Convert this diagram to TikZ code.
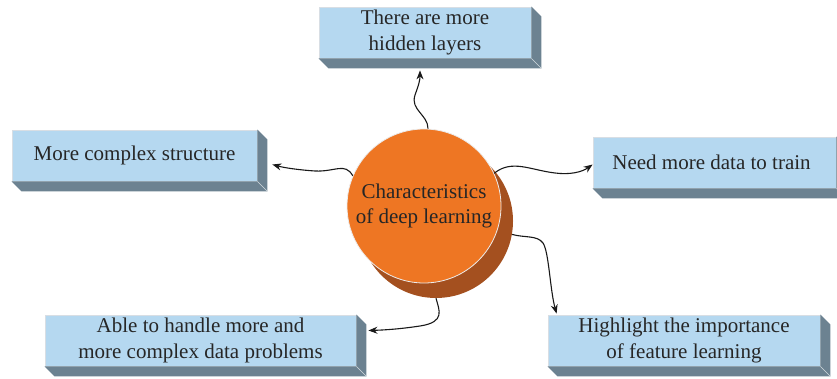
\documentclass[tikz,border=0pt]{standalone}
\usepackage{fontspec}
\setmainfont{Liberation Serif}
\usetikzlibrary{arrows.meta}
\definecolor{boxfront}{HTML}{B5D8F0}
\definecolor{boxside}{HTML}{6C8291}
\definecolor{boxedge}{HTML}{D8DEE4}
\definecolor{circfront}{HTML}{EE7623}
\definecolor{circback}{HTML}{A4501F}
\tikzset{
  feat/.style={rectangle, fill=boxfront, draw=boxedge, line width=0.8pt,
    inner sep=0pt, minimum height=51pt, align=center,
    font=\fontsize{21}{25.5}\selectfont, text=black!85},
  bigcirc/.style={circle, fill=circfront, draw=white!85!gray, line width=0.8pt,
    minimum size=154pt, inner sep=0pt, align=center,
    font=\fontsize{21}{25.5}\selectfont, text=black!85},
  conn/.style={-{Stealth[length=9pt,width=7pt]}, line width=1.1pt, black!90},
}
\newcommand{\extrude}[1]{%
  \fill[boxside] (#1.north east) -- ++(10pt,-10pt) -- ([xshift=10pt,yshift=-10pt]#1.south east)
    -- ([xshift=10pt,yshift=-10pt]#1.south west) -- (#1.south west) -- (#1.south east) -- cycle;
  \draw[white!70!boxside, line width=0.5pt] (#1.south east) -- ++(10pt,-10pt);
}
\begin{document}
\begin{tikzpicture}[x=1pt,y=-1pt]
\useasboundingbox (0,0) rectangle (837,379);
% circle
\node[circle, fill=circback, minimum size=154pt, inner sep=0pt] (cshadow) at (436,221) {};
\node[bigcirc] (c) at (424,206) {Characteristics\\of deep learning};
% boxes
\node[feat, minimum width=212pt] (top) at (425,32.5) {There are more\\hidden layers};
\extrude{top}
\node[feat, minimum width=245pt] (left) at (134.5,155.5) {More complex structure};
\extrude{left}
\node[feat, minimum width=243pt] (right) at (714.5,162.5) {\hspace*{-6pt}Need more data to train};
\extrude{right}
\node[feat, minimum width=311pt] (bl) at (200.5,340.5) {Able to handle more and\\more complex data problems};
\extrude{bl}
\node[feat, minimum width=272pt] (br) at (684,340.5) {Highlight the importance\\of feature learning};
\extrude{br}
% connectors
\draw[conn] ([xshift=4pt]c.north) .. controls +(0,-14) and (410,110) .. (415,95)
  .. controls (419,84) and (420,80) .. ([xshift=-5pt,yshift=-12pt]top.south);
\draw[conn] (c.157) .. controls (345,162) and (335,172) .. (315,171)
  .. controls (300,170) and (285,168) .. ([xshift=15pt,yshift=-9pt]left.east);
\draw[conn] (c.25) .. controls (512,159) and (530,170) .. (555,173)
  .. controls (570,175) and (582,172) .. ([yshift=-2pt]right.west);
\draw[conn] (cshadow.south) .. controls (439,310) and (446,322) .. (420,326)
  .. controls (400,329) and (385,330) .. ([xshift=12pt,yshift=10pt]bl.east);
\draw[conn] (cshadow.-10) .. controls (525,238) and (537,235) .. (543,243)
  .. controls (549,252) and (550,290) .. ([xshift=9pt,yshift=1pt]br.north west);
\end{tikzpicture}
\end{document}
